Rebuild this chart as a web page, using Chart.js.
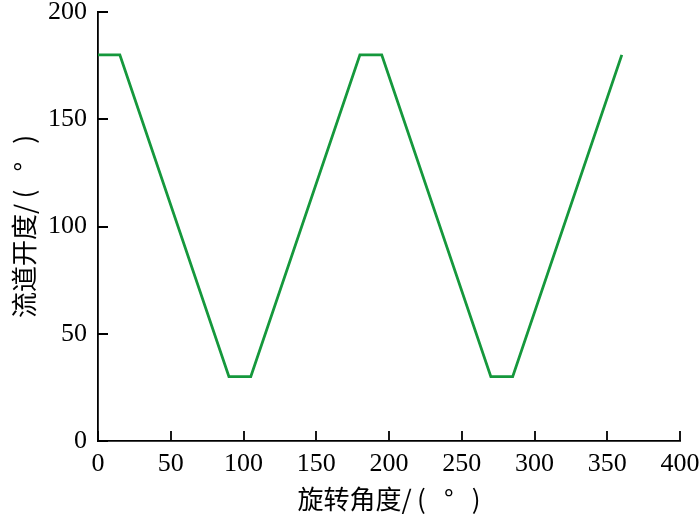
<!DOCTYPE html>
<html>
<head>
  <meta charset="UTF-8">
  <title>流道开度</title>
  <script src="https://cdn.jsdelivr.net/npm/chart.js"></script>
  <style>
    html, body { margin: 0; padding: 0; background: #ffffff; }
    .wrap { width: 700px; height: 516px; position: relative; }
  </style>
</head>
<body>
  <div class="wrap">
    <canvas id="chartOpen"></canvas>
  </div>

  <script>
    // 旋转角度 (x) 和 流道开度 (y)
    var angleDeg = [0, 15, 90, 105, 180, 195, 270, 285, 360];
    var openDeg  = [180, 180, 30, 30, 180, 180, 30, 30, 180];
    var xTicks = [0, 50, 100, 150, 200, 250, 300, 350, 400];
    var yTicks = [0, 50, 100, 150, 200];

    var points = angleDeg.map(function (a, i) { return { x: a, y: openDeg[i] }; });

    var serif = "'Liberation Serif', 'Times New Roman', serif";
    var titleFont = "'Noto Sans CJK SC', 'Liberation Serif', serif";
    // 括号中间留空, 跟原图一样
    var unitText = "/\u2009(\u2002\u2009°\u2002\u2009)";

    // 刻度线朝内
    var innerTicks = {
      id: "innerTicks",
      afterDraw: function (chart) {
        var ctx = chart.ctx;
        var area = chart.chartArea;
        var xs = chart.scales.x, ys = chart.scales.y;
        ctx.save();
        ctx.strokeStyle = "#000";
        ctx.lineWidth = 1.8;
        ctx.beginPath();
        xTicks.forEach(function (v) {
          var px = Math.round(xs.getPixelForValue(v));
          ctx.moveTo(px, area.bottom);
          ctx.lineTo(px, area.bottom - 10);
        });
        yTicks.forEach(function (v) {
          var py = Math.round(ys.getPixelForValue(v));
          ctx.moveTo(area.left, py);
          ctx.lineTo(area.left + 10, py);
        });
        ctx.stroke();
        ctx.restore();
      }
    };

    var ctxOpen = document.getElementById("chartOpen").getContext("2d");
    var chartOpen = new Chart(ctxOpen, {
      type: "line",
      data: {
        datasets: [{
          data: points,
          borderColor: "#15983c",
          borderWidth: 2.8,
          pointRadius: 0,
          tension: 0,
          fill: false
        }]
      },
      options: {
        responsive: true,
        maintainAspectRatio: false,
        animation: false,
        layout: { padding: { top: 12, right: 20, left: 0, bottom: 0 } },
        plugins: { legend: { display: false }, tooltip: { enabled: false } },
        scales: {
          x: {
            type: "linear",
            min: 0,
            max: 400,
            afterFit: function (s) { s.height = 75; s.paddingLeft = 0; s.paddingRight = 0; },
            afterBuildTicks: function (s) { s.ticks = xTicks.map(function (v) { return { value: v }; }); },
            grid: { display: true, drawOnChartArea: false, drawTicks: false },
            border: { display: true, color: "#000", width: 1.8 },
            ticks: { color: "#000", padding: 8, maxRotation: 0, font: { family: serif, size: 26 } },
            title: {
              display: true,
              text: "旋转角度" + unitText,
              color: "#000",
              padding: { top: 0, bottom: 1 },
              font: { family: titleFont, size: 26 }
            }
          },
          y: {
            min: 0,
            max: 200,
            afterFit: function (s) { s.width = 98; s.paddingTop = 0; s.paddingBottom = 0; },
            afterBuildTicks: function (s) { s.ticks = yTicks.map(function (v) { return { value: v }; }); },
            grid: { display: true, drawOnChartArea: false, drawTicks: false },
            border: { display: true, color: "#000", width: 1.8 },
            ticks: { color: "#000", padding: 11, font: { family: serif, size: 26 } },
            title: {
              display: true,
              text: "流道开度" + unitText,
              color: "#000",
              padding: { top: 9, bottom: 0 },
              font: { family: titleFont, size: 26 }
            }
          }
        }
      },
      plugins: [innerTicks]
    });
  </script>
</body>
</html>
